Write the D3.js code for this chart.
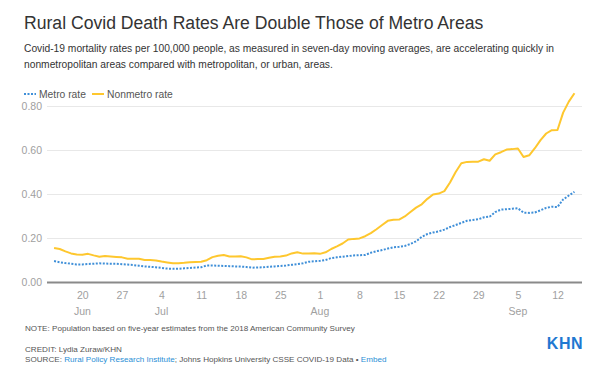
<!DOCTYPE html>
<html>
<head>
<meta charset="utf-8">
<title>Rural Covid Death Rates</title>
<script src="https://cdn.jsdelivr.net/npm/d3@7"></script>
<style>
  body { margin: 0; background: #fff; }
  svg { font-family: "Liberation Sans", Arial, sans-serif; display: block; }
</style>
</head>
<body>
<div id="chart"></div>
<script>
// daily values, June 15 to Sep 15 2020
var startDate = new Date(2020, 5, 15);
var metro = [
  0.095, 0.090, 0.086, 0.083, 0.080, 0.080, 0.082, 0.083, 0.085, 0.084,
  0.083, 0.083, 0.081, 0.079, 0.077, 0.074, 0.071, 0.069, 0.067, 0.064,
  0.061, 0.060, 0.060, 0.062, 0.064, 0.066, 0.067, 0.075, 0.075, 0.074,
  0.073, 0.072, 0.071, 0.070, 0.068, 0.065, 0.066, 0.067, 0.069, 0.071,
  0.073, 0.075, 0.078, 0.081, 0.085, 0.092, 0.094, 0.096, 0.100, 0.109,
  0.112, 0.115, 0.118, 0.121, 0.122, 0.123, 0.133, 0.140, 0.145, 0.152,
  0.158, 0.160, 0.164, 0.173, 0.185, 0.205, 0.218, 0.225, 0.230, 0.238,
  0.250, 0.259, 0.269, 0.278, 0.282, 0.285, 0.294, 0.297, 0.318, 0.329,
  0.331, 0.333, 0.335, 0.315, 0.314, 0.316, 0.326, 0.337, 0.342, 0.341,
  0.375, 0.393, 0.410
];
var nonmetro = [
  0.155, 0.150, 0.139, 0.130, 0.125, 0.124, 0.128, 0.121, 0.115, 0.118,
  0.116, 0.114, 0.112, 0.106, 0.106, 0.106, 0.100, 0.100, 0.098, 0.093,
  0.089, 0.085, 0.085, 0.087, 0.090, 0.091, 0.092, 0.099, 0.113, 0.119,
  0.123, 0.116, 0.116, 0.117, 0.112, 0.103, 0.104, 0.105, 0.110, 0.115,
  0.116, 0.120, 0.130, 0.135, 0.129, 0.129, 0.131, 0.128, 0.135, 0.150,
  0.162, 0.175, 0.193, 0.196, 0.198, 0.208, 0.222, 0.240, 0.259, 0.278,
  0.283, 0.284, 0.298, 0.318, 0.338, 0.353, 0.378, 0.398, 0.402, 0.413,
  0.452, 0.500, 0.540, 0.546, 0.547, 0.547, 0.558, 0.551, 0.580, 0.590,
  0.602, 0.604, 0.607, 0.568, 0.576, 0.608, 0.645, 0.675, 0.690, 0.691,
  0.770, 0.820, 0.858
];
var yTicks = [0, 0.2, 0.4, 0.6, 0.8];
var xTicks = ["2020-06-20", "2020-06-27", "2020-07-04", "2020-07-11", "2020-07-18",
  "2020-07-25", "2020-08-01", "2020-08-08", "2020-08-15", "2020-08-22",
  "2020-08-29", "2020-09-05", "2020-09-12"];
var monthTicks = ["2020-06-20", "2020-07-04", "2020-08-01", "2020-09-05"];

var titleText = "Rural Covid Death Rates Are Double Those of Metro Areas";
var subtitleLines = [
  "Covid-19 mortality rates per 100,000 people, as measured in seven-day moving averages, are accelerating quickly in",
  "nonmetropolitan areas compared with metropolitan, or urban, areas."
];

var metroColor = "#3f8fd8", nonmetroColor = "#fec72e";

var width = 600, height = 369;
var svg = d3.select("#chart").append("svg")
  .attr("width", width)
  .attr("height", height);

var parse = d3.timeParse("%Y-%m-%d");
var data = metro.map(function(m, i) {
  return { date: d3.timeDay.offset(startDate, i), metro: m, nonmetro: nonmetro[i] };
});

// scales
var x = d3.scaleTime()
  .domain([new Date(2020, 5, 13, 18), new Date(2020, 8, 16, 8)])
  .range([47, 582]);
var y = d3.scaleLinear()
  .domain([0, 0.8])
  .range([282, 106]);

// title + subtitle
svg.append("text")
  .attr("x", 24).attr("y", 29)
  .attr("font-size", 17.6)
  .attr("fill", "#333")
  .text(titleText);

svg.selectAll(".sub")
  .data(subtitleLines)
  .enter().append("text")
  .attr("x", 24)
  .attr("y", function(d, i) { return 52 + i * 16; })
  .attr("font-size", 10.25)
  .attr("fill", "#333")
  .text(function(d) { return d; });

// legend
var legend = svg.append("g").attr("transform", "translate(24,94)");
legend.append("line")
  .attr("x1", 0).attr("x2", 12).attr("y1", 0).attr("y2", 0)
  .attr("stroke", metroColor).attr("stroke-width", 2)
  .attr("stroke-dasharray", "2,1.5");
legend.append("text").attr("x", 15).attr("y", 4)
  .attr("font-size", 10.3).attr("fill", "#555").text("Metro rate");
legend.append("line")
  .attr("x1", 68).attr("x2", 80).attr("y1", 0).attr("y2", 0)
  .attr("stroke", nonmetroColor).attr("stroke-width", 2);
legend.append("text").attr("x", 83).attr("y", 4)
  .attr("font-size", 10.3).attr("fill", "#555").text("Nonmetro rate");

// y grid + labels
var yAxis = svg.append("g")
  .attr("transform", "translate(47,0)")
  .call(d3.axisLeft(y)
    .tickValues(yTicks)
    .tickSize(-535)
    .tickPadding(5)
    .tickFormat(d3.format(".2f")));
yAxis.select(".domain").remove();
yAxis.selectAll(".tick line")
  .attr("stroke", function(d) { return d === 0 ? "#8a8a8a" : "#e8e8e8"; })
  .attr("stroke-width", function(d) { return d === 0 ? 2 : 1; });
yAxis.selectAll(".tick text")
  .attr("font-family", "Liberation Sans, Arial, sans-serif")
  .attr("font-size", 10.5)
  .attr("fill", "#a0a0a0");

// x labels
var xAxis = svg.append("g")
  .attr("transform", "translate(0,282)")
  .call(d3.axisBottom(x)
    .tickValues(xTicks.map(parse))
    .tickSize(0)
    .tickPadding(10)
    .tickFormat(d3.timeFormat("%-d")));
xAxis.select(".domain").remove();
xAxis.selectAll(".tick text")
  .attr("font-family", "Liberation Sans, Arial, sans-serif")
  .attr("font-size", 10.5)
  .attr("fill", "#a0a0a0");

svg.append("g").selectAll("text")
  .data(monthTicks.map(parse))
  .enter().append("text")
  .attr("x", function(d) { return x(d); })
  .attr("y", 315)
  .attr("text-anchor", "middle")
  .attr("font-size", 10.5)
  .attr("fill", "#a0a0a0")
  .text(d3.timeFormat("%b"));

// lines
var metroLine = d3.line()
  .x(function(d) { return x(d.date); })
  .y(function(d) { return y(d.metro); });
var nonmetroLine = d3.line()
  .x(function(d) { return x(d.date); })
  .y(function(d) { return y(d.nonmetro); });

svg.append("path")
  .datum(data)
  .attr("fill", "none")
  .attr("stroke", metroColor)
  .attr("stroke-width", 2)
  .attr("stroke-dasharray", "2,1.5")
  .attr("d", metroLine);

svg.append("path")
  .datum(data)
  .attr("fill", "none")
  .attr("stroke", nonmetroColor)
  .attr("stroke-width", 2)
  .attr("stroke-linejoin", "round")
  .attr("d", nonmetroLine);

// footer
var foot = svg.append("g").attr("font-size", 8.1).attr("fill", "#555");
foot.append("text").attr("x", 25).attr("y", 331)
  .text("NOTE: Population based on five-year estimates from the 2018 American Community Survey");
foot.append("text").attr("x", 25).attr("y", 352)
  .text("CREDIT: Lydia Zuraw/KHN");
var src = foot.append("text").attr("x", 25).attr("y", 362);
src.append("tspan").text("SOURCE: ");
src.append("tspan").attr("fill", "#2b8fd6").text("Rural Policy Research Institute");
src.append("tspan").text("; Johns Hopkins University CSSE COVID-19 Data \u2022 ");
src.append("tspan").attr("fill", "#2b8fd6").text("Embed");

svg.append("text")
  .attr("x", 583).attr("y", 349)
  .attr("text-anchor", "end")
  .attr("font-size", 16)
  .attr("font-weight", "bold")
  .attr("fill", "#1f78d1")
  .attr("letter-spacing", "0.5")
  .text("KHN");
</script>
</body>
</html>
